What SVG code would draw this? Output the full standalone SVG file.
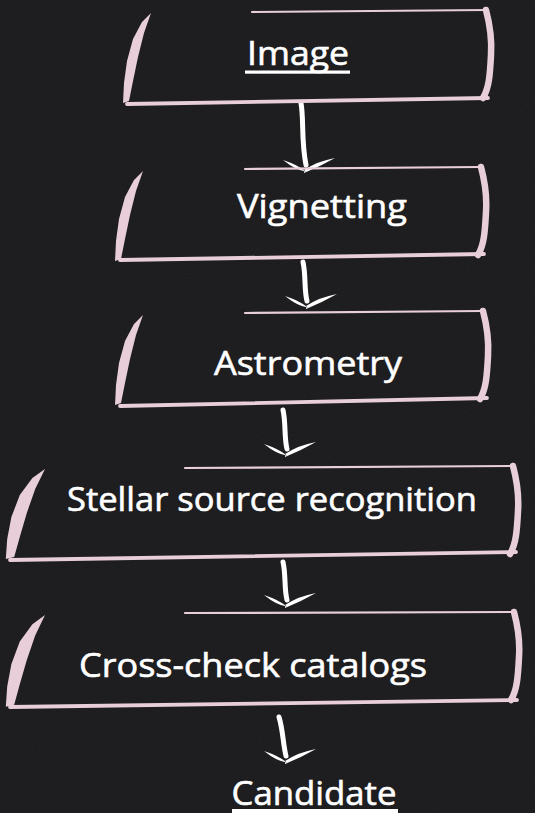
<svg xmlns="http://www.w3.org/2000/svg" xmlns:xlink="http://www.w3.org/1999/xlink" width="535" height="813" viewBox="0 0 535 813">
  <style>
    .edge{fill:none;stroke:#e8ced8;stroke-linecap:round}
    .top{stroke-width:2.2}
    .bot{stroke-width:3.8}
    .brush{fill:#e8ced8}
    .right{fill:none;stroke:#e8ced8;stroke-width:6.5;stroke-linecap:round}
    .lbl{font-family:"Open Sans","Noto Sans",sans-serif;font-size:33px;font-weight:400;fill:#ffffff;stroke:#ffffff;stroke-width:0.6;text-anchor:middle}
    .stem{fill:none;stroke:#ffffff;stroke-width:5;stroke-linecap:round}
    .head{fill:#ffffff}
    .ul{fill:#ffffff}
  </style>
  <defs>
    <filter id="chalk" x="0" y="0" width="100%" height="100%">
      <feTurbulence type="fractalNoise" baseFrequency="0.9" numOctaves="2" seed="3" result="n"/>
      <feColorMatrix type="matrix" values="0 0 0 0 1  0 0 0 0 1  0 0 0 0 1  0 0 0 0.035 0"/>
    </filter>
    <path id="leftBrush" d="M0,0 L-7,20 L-13,44 L-18,68 L-22,88 L-28,90 L-27,70 L-24,48 L-18,26 L-9,9 Z"/>
    <path id="rightEdge" d="M0,0 C4,15 6,30 5,45 C4,65 3,78 -3,88"/>
    <path id="arrowHead" d="M-23,-9 Q-10,1.5 0,2.5 Q-8,-4 -23,-9 Z M-2,1 Q12,-8 29,-11 Q14,-2.5 -2,4 Z"/>
  </defs>

  <rect x="0" y="0" width="535" height="813" fill="#1a1a1c"/>
  <rect x="0" y="0" width="535" height="813" filter="url(#chalk)"/>

  <g id="connectors">
    <path class="stem" d="M301,103 C304,120 301,140 306,165"/>
    <use href="#arrowHead" class="head" transform="translate(306,169)"/>
    <path class="stem" d="M303,262 C306,275 304,290 307,301"/>
    <use href="#arrowHead" class="head" transform="translate(308,305)"/>
    <path class="stem" d="M283,410 C286,423 284,437 287,449"/>
    <use href="#arrowHead" class="head" transform="translate(287,453)"/>
    <path class="stem" d="M283,562 C286,575 284,588 287,600"/>
    <use href="#arrowHead" class="head" transform="translate(287,604)"/>
    <path class="stem" d="M279,717 C283,730 283,744 286,756"/>
    <use href="#arrowHead" class="head" transform="translate(287,760)"/>
  </g>

  <g id="node-image">
    <path class="edge top" d="M252,12 L487,10"/>
    <use href="#rightEdge" class="right" transform="translate(486,10)"/>
    <path class="edge bot" d="M127,104 L488,98"/>
    <use href="#leftBrush" class="brush" transform="translate(151,13)"/>
    <text class="lbl" x="298" y="65" textLength="102" lengthAdjust="spacingAndGlyphs">Image</text>
    <rect class="ul" x="245" y="70.5" width="105" height="3.2"/>
  </g>

  <g id="node-vignetting">
    <path class="edge top" d="M245,169 L480,167"/>
    <use href="#rightEdge" class="right" transform="translate(481,167)"/>
    <path class="edge bot" d="M120,260 L484,254"/>
    <use href="#leftBrush" class="brush" transform="translate(143,171)"/>
    <text class="lbl" x="322" y="218" textLength="170" lengthAdjust="spacingAndGlyphs">Vignetting</text>
  </g>

  <g id="node-astrometry">
    <path class="edge top" d="M245,313 L482,311"/>
    <use href="#rightEdge" class="right" transform="translate(483,311)"/>
    <path class="edge bot" d="M120,406 L487,398"/>
    <use href="#leftBrush" class="brush" transform="translate(143,315)"/>
    <text class="lbl" x="308" y="375" textLength="188" lengthAdjust="spacingAndGlyphs">Astrometry</text>
  </g>

  <g id="node-stellar">
    <path class="edge top" d="M185,468 L512,466"/>
    <use href="#rightEdge" class="right" transform="translate(513,466)"/>
    <path class="edge bot" d="M10,560 L516,552"/>
    <use href="#leftBrush" class="brush" transform="translate(45,469) scale(1.4,1)"/>
    <text class="lbl" x="272" y="511" textLength="410" lengthAdjust="spacingAndGlyphs">Stellar source recognition</text>
  </g>

  <g id="node-crosscheck">
    <path class="edge top" d="M185,613 L512,612"/>
    <use href="#rightEdge" class="right" transform="translate(514,612)"/>
    <path class="edge bot" d="M10,707 L517,700"/>
    <use href="#leftBrush" class="brush" transform="translate(45,615) scale(1.4,1.02)"/>
    <text class="lbl" x="253" y="677" textLength="348" lengthAdjust="spacingAndGlyphs">Cross-check catalogs</text>
  </g>

  <g id="node-candidate">
    <text class="lbl" x="314" y="805" textLength="165" lengthAdjust="spacingAndGlyphs">Candidate</text>
    <rect class="ul" x="232" y="809" width="166" height="4"/>
  </g>
</svg>
